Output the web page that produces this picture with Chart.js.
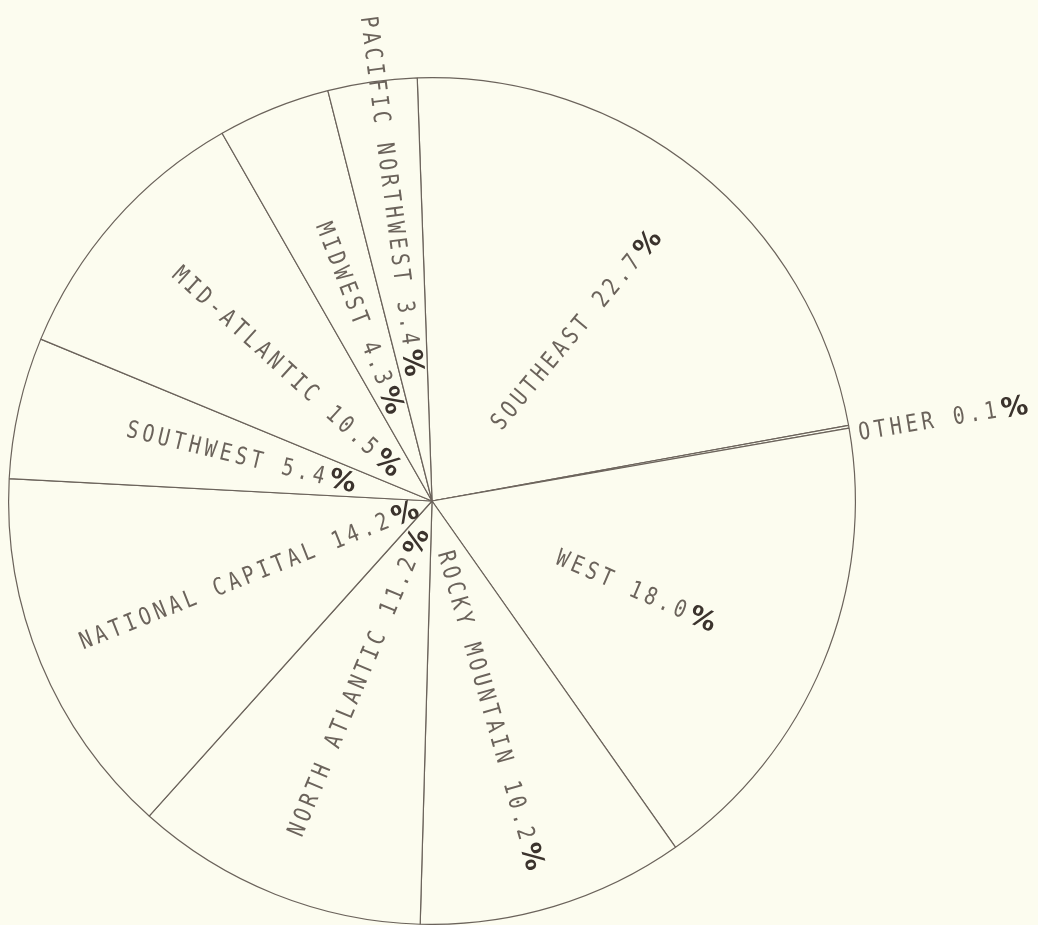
<!DOCTYPE html>
<html>
<head>
<meta charset="utf-8">
<script src="https://cdn.jsdelivr.net/npm/chart.js@4"></script>
<style>
    html, body { margin: 0; padding: 0; background: #fcfcef; }
    #pie { display: block; }
</style>
</head>
<body>
<canvas id="pie" width="1038" height="925"></canvas>
<script>
const regions = ['SOUTHEAST', 'OTHER', 'WEST', 'ROCKY MOUNTAIN', 'NORTH ATLANTIC',
    'NATIONAL CAPITAL', 'SOUTHWEST', 'MID-ATLANTIC', 'MIDWEST', 'PACIFIC NORTHWEST'];
const shares = [22.7, 0.1, 18.0, 10.2, 11.2, 14.2, 5.4, 10.5, 4.3, 3.4];

// distance from the centre to the inner end of each label
const labelInner = [98, 432, 137, 52, 30, 16, 78, 45, 95, 126];

const paper = '#fcfcef';
const ink = '#6b635b';
const squeeze = 0.82;

const radialLabels = {
    id: 'radialLabels',
    afterDatasetsDraw: (chart) => {
        const ctx = chart.ctx;
        const arcs = chart.getDatasetMeta(0).data;
        arcs.forEach((arc, i) => {
            const mid = (arc.startAngle + arc.endAngle) / 2 + 0.8 * Math.PI / 180;
            const outward = Math.cos(mid) >= 0;
            const text = regions[i] + ' ' + shares[i].toFixed(1);

            ctx.save();
            ctx.translate(arc.x, arc.y);
            ctx.rotate(outward ? mid : mid + Math.PI);

            ctx.font = '24px "DejaVu Sans Mono"';
            ctx.letterSpacing = '5px';
            const textW = ctx.measureText(text).width * squeeze;
            ctx.font = 'bold 27px "DejaVu Sans"';
            ctx.letterSpacing = '0px';
            const pctW = ctx.measureText('%').width;
            const gap = 1;
            const total = textW + gap + pctW;
            const x0 = outward ? labelInner[i] : -labelInner[i] - total;

            ctx.textBaseline = 'alphabetic';
            ctx.textAlign = 'left';
            ctx.save();
            ctx.translate(x0, 0);
            ctx.scale(squeeze, 1);
            ctx.fillStyle = ink;
            ctx.font = '24px "DejaVu Sans Mono"';
            ctx.letterSpacing = '5px';
            ctx.fillText(text, 0, 9);
            ctx.restore();

            ctx.fillStyle = '#3b332d';
            ctx.font = 'bold 27px "DejaVu Sans"';
            ctx.letterSpacing = '0px';
            ctx.fillText('%', x0 + textW + gap, 10);
            ctx.restore();
        });
    }
};

const config = {
    type: 'pie',
    data: {
        labels: regions,
        datasets: [{
            data: shares,
            backgroundColor: paper,
            borderColor: ink,
            borderWidth: 1.2,
            hoverOffset: 0,
            offset: 0
        }]
    },
    options: {
        responsive: false,
        animation: false,
        devicePixelRatio: 1,
        rotation: -2,
        layout: {
            padding: { left: 8, right: 182, top: 77, bottom: 0 }
        },
        plugins: {
            legend: { display: false },
            tooltip: { enabled: false }
        }
    },
    plugins: [radialLabels]
};

const chart = new Chart(document.getElementById('pie'), config);
</script>
</body>
</html>
